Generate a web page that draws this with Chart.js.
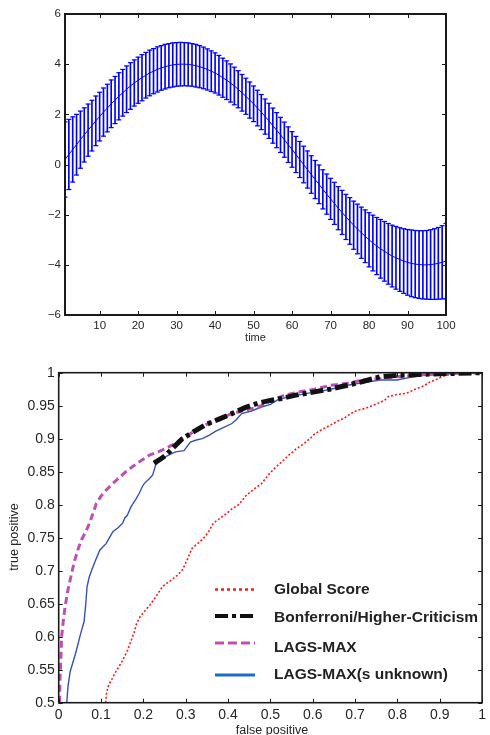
<!DOCTYPE html>
<html>
<head>
<meta charset="utf-8">
<script src="https://cdn.jsdelivr.net/npm/chart.js@4.4.0/dist/chart.umd.min.js"></script>
<style>
  html, body { margin: 0; padding: 0; background: #fff; }
  #wrap { position: relative; width: 490px; height: 735px; }
  #c1 { position: absolute; left: 0; top: 0; }
  #c2 { position: absolute; left: 0; top: 345px; }
</style>
</head>
<body>
<div id="wrap">
  <canvas id="c1" width="490" height="345"></canvas>
  <canvas id="c2" width="490" height="390"></canvas>
</div>
<script>
// ---- top panel: mean with error bars over time ----
const time = [];
for (let i = 1; i <= 100; i++) time.push(i);

const meanVal = [
  0.20, 0.40, 0.60, 0.79, 0.99, 1.18, 1.37, 1.55, 1.74, 1.91,
  2.09, 2.25, 2.42, 2.57, 2.72, 2.86, 3.00, 3.13, 3.25, 3.36,
  3.46, 3.56, 3.65, 3.72, 3.79, 3.85, 3.90, 3.94, 3.97, 3.99,
  4.00, 4.00, 3.99, 3.97, 3.94, 3.90, 3.85, 3.79, 3.72, 3.65,
  3.56, 3.46, 3.36, 3.25, 3.13, 3.00, 2.86, 2.72, 2.57, 2.42,
  2.25, 2.09, 1.91, 1.74, 1.55, 1.37, 1.18, 0.99, 0.79, 0.60,
  0.40, 0.20, 0.00, -0.20, -0.40, -0.60, -0.79, -0.99, -1.18, -1.37,
  -1.55, -1.74, -1.91, -2.09, -2.25, -2.42, -2.57, -2.72, -2.86, -3.00,
  -3.13, -3.25, -3.36, -3.46, -3.56, -3.65, -3.72, -3.79, -3.85, -3.90,
  -3.94, -3.97, -3.99, -4.00, -4.00, -3.99, -3.97, -3.94, -3.90, -3.85
];

const errVal = [
  1.50, 1.40, 1.30, 1.21, 1.14, 1.08, 1.04, 1.01, 0.99, 0.97,
  0.96, 0.95, 0.95, 0.94, 0.94, 0.93, 0.93, 0.93, 0.92, 0.92,
  0.92, 0.91, 0.91, 0.90, 0.90, 0.89, 0.89, 0.88, 0.88, 0.87,
  0.87, 0.86, 0.86, 0.85, 0.85, 0.84, 0.83, 0.82, 0.81, 0.80,
  0.79, 0.78, 0.77, 0.76, 0.75, 0.74, 0.73, 0.72, 0.72, 0.71,
  0.71, 0.70, 0.70, 0.70, 0.70, 0.70, 0.70, 0.70, 0.71, 0.71,
  0.72, 0.72, 0.73, 0.74, 0.75, 0.76, 0.77, 0.78, 0.80, 0.82,
  0.84, 0.86, 0.88, 0.90, 0.93, 0.96, 0.99, 1.02, 1.05, 1.08,
  1.11, 1.14, 1.17, 1.19, 1.21, 1.23, 1.25, 1.27, 1.29, 1.31,
  1.33, 1.34, 1.35, 1.36, 1.37, 1.39, 1.41, 1.43, 1.46, 1.50
];

const timeTicks = [10, 20, 30, 40, 50, 60, 70, 80, 90, 100];
const valueTicks = [-6, -4, -2, 0, 2, 4, 6];

// ---- bottom panel: ROC curves ----
const globalFp = [0.111,0.113,0.118,0.125,0.135,0.150,0.163,0.178,0.184,0.192,0.206,0.218,0.229,0.245,0.262,0.280,0.292,0.303,0.315,0.330,0.342,0.355,0.365,0.380,0.395,0.410,0.425,0.444,0.460,0.479,0.495,0.505,0.518,0.532,0.545,0.560,0.580,0.595,0.604,0.622,0.643,0.660,0.674,0.690,0.705,0.725,0.744,0.760,0.771,0.779,0.800,0.822,0.846,0.862,0.877,0.893,0.908,0.925,0.939,0.970,1.0];
const globalTp = [0.500,0.515,0.527,0.535,0.547,0.563,0.580,0.606,0.620,0.630,0.641,0.650,0.660,0.676,0.684,0.693,0.701,0.716,0.734,0.742,0.749,0.760,0.772,0.779,0.786,0.794,0.800,0.815,0.823,0.832,0.845,0.852,0.860,0.868,0.876,0.884,0.893,0.901,0.907,0.914,0.921,0.927,0.931,0.938,0.943,0.946,0.951,0.955,0.959,0.964,0.967,0.969,0.976,0.980,0.986,0.990,0.995,0.997,0.999,1.0,1.0];

const bonfFp = [0.225,0.240,0.253,0.270,0.292,0.320,0.346,0.380,0.409,0.440,0.471,0.500,0.526,0.560,0.604,0.640,0.682,0.720,0.760,0.799,0.840,0.877,0.940,1.0];
const bonfTp = [0.863,0.869,0.875,0.886,0.900,0.911,0.921,0.930,0.938,0.947,0.954,0.958,0.961,0.966,0.971,0.975,0.981,0.987,0.994,0.996,0.997,0.998,0.999,1.0];

const lagsFp = [0.002,0.003,0.005,0.007,0.011,0.015,0.021,0.027,0.033,0.038,0.046,0.054,0.063,0.073,0.080,0.089,0.100,0.112,0.124,0.136,0.155,0.175,0.195,0.214,0.235,0.253,0.272,0.292,0.312,0.331,0.370,0.409,0.440,0.471,0.500,0.534,0.570,0.604,0.643,0.682,0.720,0.760,0.799,0.840,0.877,0.940,1.0];
const lagsTp = [0.500,0.535,0.565,0.600,0.625,0.645,0.668,0.686,0.703,0.716,0.733,0.747,0.758,0.772,0.785,0.802,0.813,0.822,0.830,0.837,0.848,0.858,0.867,0.875,0.880,0.885,0.892,0.900,0.908,0.916,0.928,0.938,0.943,0.948,0.957,0.966,0.971,0.975,0.981,0.984,0.989,0.991,0.994,0.996,0.998,0.999,1.0];

const lagsUnkFp = [0.019,0.022,0.027,0.040,0.052,0.060,0.064,0.067,0.072,0.078,0.087,0.097,0.104,0.112,0.120,0.128,0.140,0.151,0.156,0.162,0.171,0.182,0.190,0.198,0.202,0.215,0.222,0.229,0.245,0.262,0.276,0.296,0.305,0.311,0.325,0.339,0.355,0.370,0.390,0.409,0.420,0.432,0.455,0.479,0.500,0.518,0.540,0.565,0.590,0.612,0.650,0.682,0.720,0.760,0.799,0.830,0.861,0.890,0.916,0.960,1.0];
const lagsUnkTp = [0.500,0.525,0.547,0.575,0.605,0.623,0.650,0.676,0.690,0.701,0.716,0.731,0.736,0.741,0.750,0.759,0.765,0.772,0.780,0.784,0.797,0.808,0.817,0.828,0.832,0.840,0.845,0.860,0.870,0.876,0.880,0.882,0.890,0.895,0.898,0.900,0.905,0.911,0.917,0.923,0.929,0.938,0.942,0.948,0.952,0.959,0.963,0.966,0.969,0.971,0.976,0.981,0.985,0.989,0.989,0.993,0.996,0.997,0.998,0.999,1.0];

const fpTicks = [0, 0.1, 0.2, 0.3, 0.4, 0.5, 0.6, 0.7, 0.8, 0.9, 1];
const tpTicks = [0.5, 0.55, 0.6, 0.65, 0.7, 0.75, 0.8, 0.85, 0.9, 0.95, 1];

const FONT = '"Liberation Sans", Arial, Helvetica, sans-serif';
const BLUE = '#0000ff';

const pairs = (xs, ys) => xs.map((x, i) => ({ x: x, y: ys[i] }));

// box, inward ticks and axis titles (matlab look)
function framePlugin(cfg) {
  return {
    id: 'frame',
    afterDatasetsDraw(chart) {
      const { ctx, chartArea: a, scales: { x, y } } = chart;
      ctx.save();
      ctx.strokeStyle = '#1a1a1a';
      ctx.lineWidth = cfg.lw;
      ctx.strokeRect(a.left, a.top, a.right - a.left, a.bottom - a.top);
      ctx.lineWidth = 1;
      ctx.beginPath();
      const L = cfg.tick;
      x.ticks.forEach(t => {
        const px = Math.round(x.getPixelForValue(t.value)) + 0.5;
        ctx.moveTo(px, a.bottom); ctx.lineTo(px, a.bottom - L);
        ctx.moveTo(px, a.top); ctx.lineTo(px, a.top + L);
      });
      y.ticks.forEach(t => {
        const py = Math.round(y.getPixelForValue(t.value)) + 0.5;
        ctx.moveTo(a.left, py); ctx.lineTo(a.left + L, py);
        ctx.moveTo(a.right, py); ctx.lineTo(a.right - L, py);
      });
      ctx.stroke();

      ctx.fillStyle = '#262626';
      ctx.font = cfg.titleSize + 'px ' + FONT;
      ctx.textAlign = 'center';
      ctx.textBaseline = 'middle';
      if (cfg.xTitle) ctx.fillText(cfg.xTitle, cfg.xTitleX, cfg.xTitleY);
      if (cfg.yTitle) {
        ctx.translate(cfg.yTitleX, cfg.yTitleY);
        ctx.rotate(-Math.PI / 2);
        ctx.fillText(cfg.yTitle, 0, 0);
      }
      ctx.restore();
    }
  };
}

// legend inside the plot, no box
const rocLegend = {
  id: 'rocLegend',
  afterDraw(chart) {
    const ctx = chart.ctx;
    const rows = [244.5, 271, 298, 330];
    const textY = [245, 273, 303, 330];
    ctx.save();
    chart.data.datasets.forEach((ds, i) => {
      ctx.beginPath();
      ctx.strokeStyle = ds.legendColor || ds.borderColor;
      ctx.lineWidth = ds.legendWidth;
      ctx.setLineDash(ds.legendDash || []);
      ctx.lineCap = 'butt';
      ctx.moveTo(215, rows[i]);
      ctx.lineTo(255, rows[i]);
      ctx.stroke();
      ctx.setLineDash([]);
      ctx.fillStyle = '#222';
      ctx.font = 'bold 15.5px ' + FONT;
      ctx.textAlign = 'left';
      ctx.textBaseline = 'middle';
      ctx.fillText(ds.label, 274, textY[i]);
    });
    ctx.restore();
  }
};

// top chart
new Chart(document.getElementById('c1'), {
  type: 'bar',
  data: {
    datasets: [
      {
        type: 'line',
        data: pairs(time, meanVal),
        borderColor: BLUE,
        borderWidth: 1,
        pointRadius: 0,
        tension: 0
      },
      {
        type: 'line',
        data: pairs(time, meanVal.map((m, i) => m + errVal[i])),
        showLine: false,
        pointStyle: 'line',
        pointRadius: 2.5,
        pointBorderWidth: 1.2,
        pointBorderColor: BLUE,
        borderColor: BLUE
      },
      {
        type: 'line',
        data: pairs(time, meanVal.map((m, i) => m - errVal[i])),
        showLine: false,
        pointStyle: 'line',
        pointRadius: 2.5,
        pointBorderWidth: 1.2,
        pointBorderColor: BLUE,
        borderColor: BLUE
      },
      {
        type: 'bar',
        data: time.map((t, i) => ({ x: t, y: [meanVal[i] - errVal[i], meanVal[i] + errVal[i]] })),
        backgroundColor: BLUE,
        borderWidth: 0,
        barThickness: 1,
        grouped: false
      }
    ]
  },
  options: {
    responsive: false,
    animation: false,
    events: [],
    layout: { padding: { top: 14, right: 44, left: 0, bottom: 0 } },
    plugins: { legend: { display: false }, tooltip: { enabled: false } },
    scales: {
      x: {
        type: 'linear',
        min: 1, max: 100,
        offset: false,
        grid: { display: false, drawTicks: false },
        border: { display: false },
        afterBuildTicks: s => { s.ticks = timeTicks.map(v => ({ value: v })); },
        afterFit: s => { s.height = 30; },
        ticks: {
          autoSkip: false, maxRotation: 0, padding: 4,
          color: '#262626', font: { family: FONT, size: 11.5 },
          callback: v => String(v)
        }
      },
      y: {
        type: 'linear',
        min: -6, max: 6,
        grid: { display: false, drawTicks: false },
        border: { display: false },
        afterBuildTicks: s => { s.ticks = valueTicks.map(v => ({ value: v })); },
        afterFit: s => { s.width = 65; },
        ticks: {
          autoSkip: false, padding: 4,
          color: '#262626', font: { family: FONT, size: 11.5 },
          callback: v => String(v).replace('-', '\u2212')
        }
      }
    }
  },
  plugins: [framePlugin({
    lw: 2, tick: 4, titleSize: 11,
    xTitle: 'time', xTitleX: 255.5, xTitleY: 338
  })]
});

// bottom chart
new Chart(document.getElementById('c2'), {
  type: 'line',
  data: {
    datasets: [
      {
        label: 'Global Score',
        data: pairs(globalFp, globalTp),
        borderColor: '#ff1a1a',
        borderWidth: 1.6,
        borderDash: [2, 2],
        legendWidth: 2.5, legendDash: [3, 3],
        pointRadius: 0, tension: 0, order: 3
      },
      {
        label: 'Bonferroni/Higher-Criticism',
        data: pairs(bonfFp, bonfTp),
        borderColor: '#111111',
        borderWidth: 5,
        borderDash: [13, 4, 4, 4],
        legendWidth: 4, legendDash: [13, 4, 4, 4],
        pointRadius: 0, tension: 0, order: 0
      },
      {
        label: 'LAGS-MAX',
        data: pairs(lagsFp, lagsTp),
        borderColor: '#c050b0',
        borderWidth: 3,
        borderDash: [7, 4],
        legendWidth: 3, legendDash: [9, 4],
        pointRadius: 0, tension: 0, order: 1
      },
      {
        label: 'LAGS-MAX(s unknown)',
        data: pairs(lagsUnkFp, lagsUnkTp),
        borderColor: '#3352b4',
        borderWidth: 1.4,
        legendColor: '#1a6fc0',
        legendWidth: 3,
        pointRadius: 0, tension: 0, order: 2
      }
    ]
  },
  options: {
    responsive: false,
    animation: false,
    events: [],
    layout: { padding: { top: 27.7, right: 4, left: 0, bottom: 0 } },
    plugins: { legend: { display: false }, tooltip: { enabled: false } },
    scales: {
      x: {
        type: 'linear',
        min: 0, max: 1,
        grid: { display: false, drawTicks: false },
        border: { display: false },
        afterBuildTicks: s => { s.ticks = fpTicks.map(v => ({ value: v })); },
        afterFit: s => { s.height = 32.3; },
        ticks: {
          autoSkip: false, maxRotation: 0, padding: 4,
          color: '#262626', font: { family: FONT, size: 14 },
          callback: v => String(v)
        }
      },
      y: {
        type: 'linear',
        min: 0.5, max: 1,
        grid: { display: false, drawTicks: false },
        border: { display: false },
        afterBuildTicks: s => { s.ticks = tpTicks.map(v => ({ value: v })); },
        afterFit: s => { s.width = 58.7; },
        ticks: {
          autoSkip: false, padding: 4,
          color: '#262626', font: { family: FONT, size: 14 },
          callback: v => String(v)
        }
      }
    }
  },
  plugins: [framePlugin({
    lw: 1.6, tick: 4, titleSize: 12.5,
    xTitle: 'false positive', xTitleX: 272, xTitleY: 386,
    yTitle: 'true positive', yTitleX: 15, yTitleY: 192
  }), rocLegend]
});
</script>
</body>
</html>
